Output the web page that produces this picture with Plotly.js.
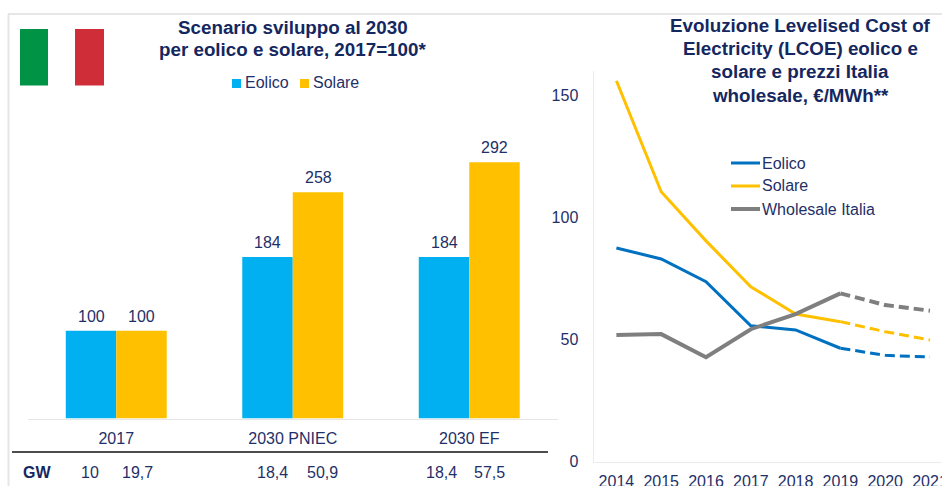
<!DOCTYPE html>
<html><head><meta charset="utf-8">
<script src="https://cdn.plot.ly/plotly-3.0.1.min.js"></script>
<style>html,body{margin:0;padding:0;background:#fff;overflow:hidden;width:942px;height:486px}#c{width:960px;height:486px}</style>
</head><body><div id="c"></div>
<script>
const scenari = ['2017','2030 PNIEC','2030 EF'];
const eolicoIdx = [100,184,184];
const solareIdx = [100,258,292];
const gwEolico = ['10','18,4','18,4'];
const gwSolare = ['19,7','50,9','57,5'];
const anni = ['2014','2015','2016','2017','2018','2019','2020','2021'];
const eolicoLcoe = [87.5,83,73.7,55.6,53.9,46.4,43.5,42.8];
const solareLcoe = [156,110.5,90.4,71.6,60.4,57.3,53.2,49.8];
const wholesale = [51.8,52.2,42.7,54.2,60.4,68.9,64.1,61.8];
const titoloSx = ['Scenario sviluppo al 2030','per eolico e solare, 2017=100*'];
const titoloDx = ['Evoluzione Levelised Cost of','Electricity (LCOE) eolico e','solare e prezzi Italia','wholesale, €/MWh**'];

const W=960,H=486;
const NAVY='#14275f', TXT='#1f3068', FONT='"Liberation Sans",Arial,sans-serif';
const BLU='#00b0f0',GIALLO='#ffc000',BLU2='#0070c0',GRIGIO='#7f7f7f';
const px=v=>v/W, py=v=>1-v/H;
const LAST=6; // solid up to 2019, dashed after

function lineTraces(name,vals,color,w){
  return [
    {type:'scatter',mode:'lines',name,x:anni.slice(0,LAST),y:vals.slice(0,LAST),xaxis:'x2',yaxis:'y2',showlegend:false,
     line:{color,width:w},cliponaxis:false},
    {type:'scatter',mode:'lines',name:name+' (prev.)',x:anni.slice(LAST-1),y:vals.slice(LAST-1),xaxis:'x2',yaxis:'y2',showlegend:false,
     line:{color,width:w,dash:'10px,5px'},cliponaxis:false}
  ];
}
const traces=[
  {type:'bar',name:'Eolico',x:scenari,y:eolicoIdx,marker:{color:BLU},showlegend:false},
  {type:'bar',name:'Solare',x:scenari,y:solareIdx,marker:{color:GIALLO},showlegend:false},
  ...lineTraces('Eolico',eolicoLcoe,BLU2,3),
  ...lineTraces('Solare',solareLcoe,GIALLO,3),
  ...lineTraces('Wholesale Italia',wholesale,GRIGIO,4)
];
const baseFont={family:FONT,size:16,color:TXT};
const ann=(text,x,y,o={})=>Object.assign({text,x:px(x),y:py(y),xref:'paper',yref:'paper',showarrow:false,xanchor:'center',yanchor:'middle',font:baseFont},o);
const titleFont={family:FONT,size:18.8,color:NAVY};
const gwX=[[90,137],[272,322],[441,490]];
const annotations=[];
titoloSx.forEach((t,i)=>annotations.push(ann('<b>'+t+'</b>',292.5,28+22*i,{font:titleFont})));
titoloDx.forEach((t,i)=>annotations.push(ann('<b>'+t+'</b>',800,25.5+23.2*i,{font:titleFont})));
annotations.push(ann('<b>GW</b>',37,472,{font:{family:FONT,size:16,color:NAVY}}));
gwX.forEach((p,i)=>{annotations.push(ann(gwEolico[i],p[0],472));annotations.push(ann(gwSolare[i],p[1],472));});
scenari.forEach((c,i)=>{
  const lab=(v,s)=>({text:String(v),x:i,y:v,xref:'x',yref:'y',showarrow:false,xanchor:'center',yanchor:'middle',xshift:s,yshift:14.5,font:baseFont});
  annotations.push(lab(eolicoIdx[i],-25));
  annotations.push(lab(solareIdx[i],25.5));
});
const rect=(x0,y0,x1,y1,c)=>({type:'rect',xref:'paper',yref:'paper',x0:px(x0),x1:px(x1),y0:py(y0),y1:py(y1),fillcolor:c,line:{width:0}});
const hl=(x0,x1,y,c,w)=>({type:'line',xref:'paper',yref:'paper',x0:px(x0),x1:px(x1),y0:py(y),y1:py(y),line:{color:c,width:w}});
// legends
annotations.push(ann('Eolico',242.5,83,{xanchor:'left'}),ann('Solare',310.5,83,{xanchor:'left'}));
[['Eolico',163],['Solare',186],['Wholesale Italia',209]].forEach(e=>annotations.push(ann(e[0],759.5,e[1],{xanchor:'left'})));
const layout={
  width:W,height:H,margin:{l:0,r:0,t:0,b:0,pad:0},paper_bgcolor:'#fff',plot_bgcolor:'rgba(0,0,0,0)',
  font:baseFont,barmode:'group',bargap:0.428,bargroupgap:0,showlegend:false,
  xaxis:{domain:[px(28),px(557.5)],type:'category',range:[-0.5,2.5],anchor:'y',showgrid:false,zeroline:false,showline:true,linecolor:'#e6e6e6',linewidth:1,
    ticks:'outside',ticklen:5,tickcolor:'rgba(0,0,0,0)',tickfont:baseFont},
  yaxis:{domain:[py(418.5),py(111.5)],range:[0,350],visible:false,anchor:'x'},
  xaxis2:{domain:[px(594),px(952.4)],type:'category',range:[-0.5,7.5],anchor:'y2',showgrid:false,zeroline:false,showline:true,linecolor:'#ececec',linewidth:1.5,
    ticks:'outside',ticklen:5,tickcolor:'rgba(0,0,0,0)',tickfont:baseFont},
  yaxis2:{domain:[py(461.5),py(71)],range:[0,160],anchor:'x2',tickvals:[0,50,100,150],showgrid:false,zeroline:false,showline:true,linecolor:'#ececec',linewidth:1.5,
    ticks:'outside',ticklen:11,tickcolor:'rgba(0,0,0,0)',tickfont:baseFont},
  annotations,
  shapes:[
    hl(8,960,14,'#e6e6e6',2),
    {type:'line',xref:'paper',yref:'paper',x0:px(8.5),x1:px(8.5),y0:py(14),y1:py(486),line:{color:'#e6e6e6',width:2}},
    rect(20,29,48,85.5,'#009245'),
    rect(75,29,104,85.5,'#cf2e39'),
    hl(12,548,452,'#111',1.5),
    rect(232,79,241,88,BLU),
    rect(300,79,309,88,GIALLO),
    hl(731,760,163,BLU2,3),
    hl(731,760,186,GIALLO,3),
    hl(731,760,209,GRIGIO,4)
  ]
};
Plotly.newPlot('c',traces,layout,{staticPlot:true,displayModeBar:false});
</script></body></html>
